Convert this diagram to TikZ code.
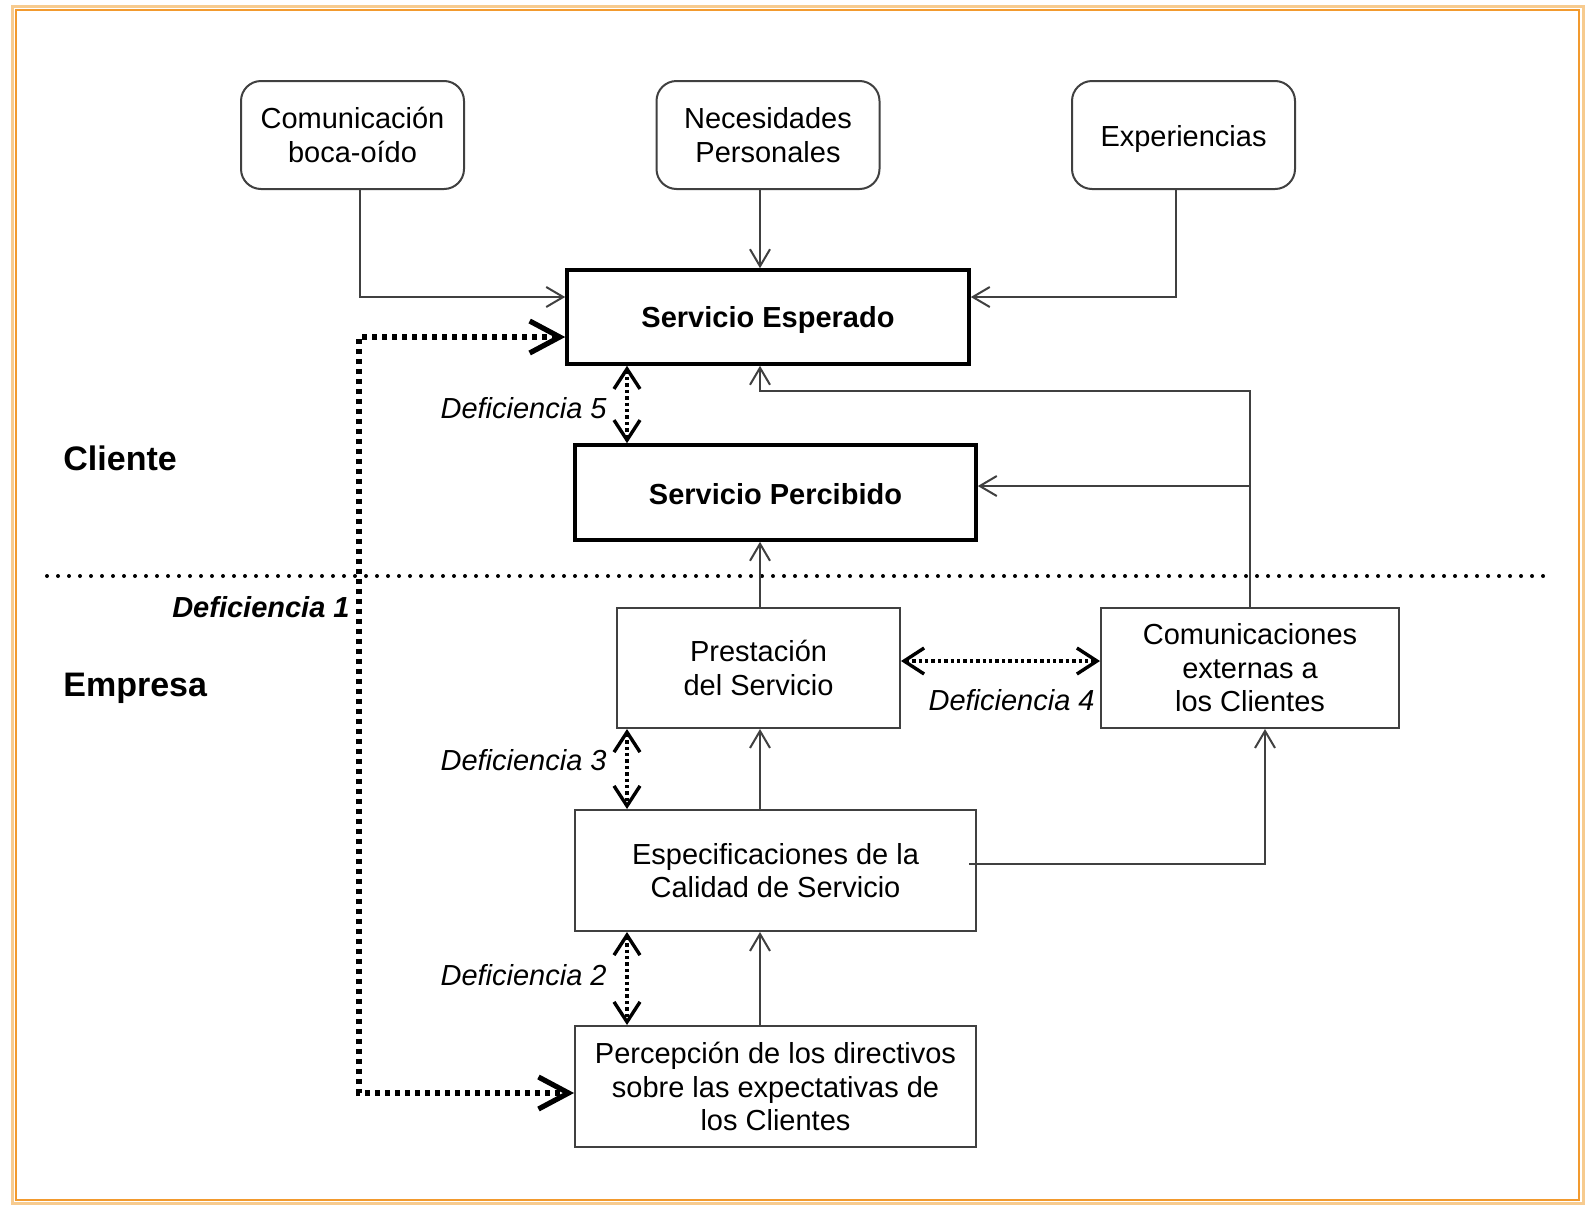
\documentclass[tikz,border=0pt]{standalone}
\usepackage{fontspec}
\setmainfont{Liberation Sans}
\usetikzlibrary{arrows.meta,calc}
\definecolor{orA}{HTML}{F29A2E}
\definecolor{orB}{HTML}{F7CB8F}
\definecolor{ln}{HTML}{404040}
\begin{document}
\begin{tikzpicture}[x=0.5pt,y=-0.5pt,
  txt/.style={font=\fontsize{14.5}{16.8}\selectfont, align=center},
  rbox/.style={txt, draw=ln, line width=1pt, rounded corners=10pt, minimum width=111.5pt, minimum height=54pt, inner sep=0pt},
  tbox/.style={txt, draw=black, line width=1.8pt, font=\fontsize{14.5}{16.8}\selectfont\bfseries, inner sep=0pt},
  pbox/.style={txt, draw=ln, line width=1pt, inner sep=0pt},
  conn/.style={draw=ln, line width=1pt, -{Straight Barb[length=8.5pt,width=10pt]}},
  gap/.style={line width=1.7pt, dash pattern=on 1.7pt off 1.5pt, {Straight Barb[length=10pt,width=13pt]}-{Straight Barb[length=10pt,width=13pt]}},
  bigdot/.style={line width=2.6pt, dash pattern=on 2.6pt off 2.4pt, {Straight Barb[length=15pt,width=16pt]}-{Straight Barb[length=15pt,width=16pt]}},
  deflab/.style={font=\fontsize{14.5}{16.8}\selectfont\itshape, anchor=east, inner sep=0pt},
  side/.style={font=\fontsize{17}{20}\selectfont\bfseries, anchor=west, inner sep=0pt}
]
\useasboundingbox (0,0) rectangle (1593,1205);
\fill[white] (0,0) rectangle (1593,1205);
\draw[orB, line width=1.5pt] (12,6.5) rectangle (1583,1203);
\draw[orA, line width=1pt] (15.5,10) rectangle (1579,1199.5);

% nodes
\node[rbox] (com) at (352.5,135) {Comunicación\\boca-oído};
\node[rbox] (nec) at (768,135) {Necesidades\\Personales};
\node[rbox] (exp) at (1183.5,135) {\raisebox{-1.8pt}[\height][\depth]{Experiencias}};
\node[tbox, minimum width=201pt, minimum height=47pt] (se) at (768,317) {\raisebox{-1.5pt}[\height][\depth]{Servicio Esperado}};
\node[tbox, minimum width=200.5pt, minimum height=47.5pt] (sp) at (775.5,492.5) {\raisebox{-1pt}[\height][\depth]{Servicio Percibido}};
\node[pbox, minimum width=141.5pt, minimum height=60pt] (pre) at (758.5,668) {Prestación\\del Servicio};
\node[pbox, minimum width=149pt, minimum height=60pt] (ce) at (1250,668) {Comunicaciones\\externas a\\los Clientes};
\node[pbox, minimum width=200.5pt, minimum height=60.5pt] (esp) at (775.5,870.5) {Especificaciones de la\\Calidad de Servicio};
\node[pbox, minimum width=200.5pt, minimum height=60.5pt] (per) at (775.5,1086.5) {Percepción de los directivos\\sobre las expectativas de\\los Clientes};

% labels
\node[side] (cli) at (63,458) {Cliente};
\node[side] (emp) at (63,688) {Empresa};
\node[deflab, font=\fontsize{14.5}{16.8}\selectfont\bfseries\itshape] (d1) at (350,607) {Deficiencia 1};
\node[deflab] (d5) at (607,408) {Deficiencia 5};
\node[deflab] (d3) at (607,760) {Deficiencia 3};
\node[deflab] (d2) at (607,975) {Deficiencia 2};
\node[deflab] (d4) at (1095,700) {Deficiencia 4};

% separator
\draw[line width=2pt, line cap=round, dash pattern=on 0pt off 5.5pt] (47,576) -- (1544,576);

% coordinates
\coordinate (sx) at (760,0);
\coordinate (gx) at (627,0);
\coordinate (c1x) at (360,297);
\coordinate (c3x) at (1176,297);
\coordinate (fb) at (1250,391);
\coordinate (br) at (1250,486);
\coordinate (ec) at (1265,864);
\coordinate (d4y) at (0,661);
\coordinate (d1a) at (359,337);
\coordinate (d1b) at (359,1093);

% connectors
\draw[conn] (com.south -| c1x) |- (se.west |- c1x);
\draw[conn] (nec.south -| sx) -- (se.north -| sx);
\draw[conn] (exp.south -| c3x) |- (se.east |- c3x);
\draw[conn] (ce.north) -- (ce.north |- fb) -| (se.south -| sx);
\draw[conn] (ce.north |- br) -- (sp.east |- br);
\draw[conn] (pre.north -| sx) -- (sp.south -| sx);
\draw[conn] (esp.north -| sx) -- (pre.south -| sx);
\draw[conn] (per.north -| sx) -- (esp.south -| sx);
\draw[conn] ([xshift=-4pt]esp.east |- ec) -| (ce.south -| ec);

% gaps
\draw[gap] (se.south -| gx) -- (sp.north -| gx);
\draw[gap] (pre.south -| gx) -- (esp.north -| gx);
\draw[gap] (esp.south -| gx) -- (per.north -| gx);
\draw[gap] (pre.east |- d4y) -- (ce.west |- d4y);
\draw[bigdot] (se.west |- d1a) -- (d1a) -- (d1b) -- (per.west |- d1b);
\end{tikzpicture}
\end{document}
